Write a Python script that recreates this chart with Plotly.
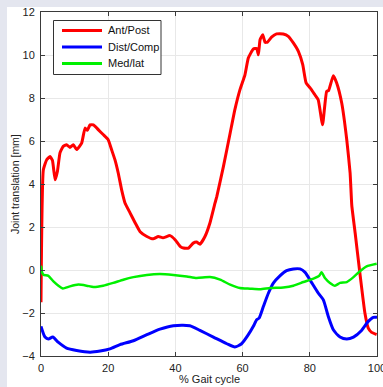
import plotly.graph_objects as go

ant_x = [0, 0.7, 1.7, 2.7, 3.4, 4.2, 4.9, 5.65, 6.6, 7.6, 8.6, 9.6, 10.6, 12.1, 13.1, 13.8, 14.6, 15.6, 17.1, 18.5, 20, 21, 22, 23, 24, 25, 26.5, 28, 29.5, 31.5, 33.4, 34.9, 36.3, 38.4, 39.9, 41.4, 42.4, 43.9, 45.3, 46.3, 47.3, 48.8, 50.3, 51.8, 52.3, 54.3, 56.3, 57.7, 59.2, 60.7, 61.7, 63.2, 64.2, 64.7, 65.2, 66, 66.7, 67.4, 68.7, 70.1, 72.1, 73.6, 75.1, 76.6, 77.9, 78.9, 80.1, 81.5, 82.5, 83.8, 85, 85.6, 87, 88, 89.5, 91, 92, 92.5, 93.5, 94.9, 96.4, 97.4, 98.4, 99.9]
ant_y = [-1.5, 4.66, 5.13, 5.28, 5.1, 4.2, 4.6, 5.45, 5.75, 5.83, 5.7, 5.83, 5.6, 5.9, 6.6, 6.5, 6.75, 6.75, 6.52, 6.3, 6.06, 5.6, 5.13, 4.5, 3.73, 3.12, 2.66, 2.2, 1.78, 1.56, 1.45, 1.56, 1.5, 1.6, 1.41, 1.1, 1.02, 1.02, 1.25, 1.3, 1.2, 1.56, 2.2, 3.12, 3.4, 4.82, 6.37, 7.46, 8.38, 9.08, 9.86, 10.28, 10.3, 10.01, 10.71, 10.94, 10.59, 10.6, 10.84, 10.98, 10.98, 10.87, 10.56, 10.17, 9.55, 8.7, 8.47, 8.15, 7.92, 6.76, 8.3, 8.35, 9.04, 8.7, 7.77, 6.06, 4.51, 3.0, 1.72, -0.14, -2.0, -2.7, -2.9, -3.0]

dist_x = [0, 1.2, 2.2, 3.5, 5.2, 7.6, 10.6, 14.6, 17.6, 20.5, 23.5, 27.5, 31.5, 35.4, 39.4, 44.3, 47.3, 51.3, 55.3, 57.7, 59.7, 61.7, 63.2, 64.2, 64.9, 66.2, 67.7, 69.2, 71.1, 73.1, 75.1, 77.1, 78.6, 80.6, 82.5, 84, 85.5, 87, 89, 91, 93, 95.4, 97.4, 98.9, 100]
dist_y = [-2.62, -3.12, -3.21, -3.12, -3.37, -3.63, -3.74, -3.82, -3.77, -3.67, -3.47, -3.29, -3.01, -2.75, -2.59, -2.59, -2.81, -3.12, -3.43, -3.58, -3.43, -3.01, -2.62, -2.31, -2.24, -1.69, -1.07, -0.6, -0.27, -0.03, 0.05, 0.05, -0.11, -0.6, -1.07, -1.38, -2.16, -2.78, -3.12, -3.21, -3.12, -2.81, -2.39, -2.2, -2.2]

med_x = [0, 0.3, 0.7, 2.2, 3.7, 5.2, 6.5, 8.6, 11.1, 13.6, 15.6, 18.5, 21.5, 24.5, 27.5, 31.5, 35.4, 39.4, 43.4, 46.3, 50.3, 53.3, 56.3, 59.2, 62.2, 65.2, 68.2, 72.1, 75.1, 78.1, 81.1, 82.8, 83.5, 84.5, 86, 87.5, 89, 91, 93, 94.9, 96.9, 99.9]
med_y = [0.2, -0.1, -0.22, -0.27, -0.53, -0.73, -0.86, -0.76, -0.68, -0.73, -0.79, -0.73, -0.6, -0.45, -0.33, -0.23, -0.19, -0.23, -0.3, -0.37, -0.33, -0.45, -0.68, -0.84, -0.87, -0.9, -0.84, -0.81, -0.73, -0.56, -0.4, -0.27, -0.11, -0.37, -0.6, -0.73, -0.6, -0.56, -0.33, -0.06, 0.17, 0.29]

series_names = ["Ant/Post", "Dist/Comp", "Med/lat"]
series_colors = ["#ff0000", "#0000ff", "#00f000"]

x_ticks = [0, 20, 40, 60, 80, 100]
y_ticks = [-4, -2, 0, 2, 4, 6, 8, 10, 12]

W, H = 383, 387
L, R, T, B = 41, 6, 12, 31
pw, ph = W - L - R, H - T - B


def px_x(px):
    return (px - L) / pw


def px_y(py):
    return 1 - (py - T) / ph


FONT = "Liberation Sans, Arial, Helvetica"

fig = go.Figure()
fig.add_trace(go.Scatter(x=ant_x, y=ant_y, mode="lines", name=series_names[0],
                         line=dict(color=series_colors[0], width=3, shape="spline", smoothing=0.4)))
fig.add_trace(go.Scatter(x=dist_x, y=dist_y, mode="lines", name=series_names[1],
                         line=dict(color=series_colors[1], width=3, shape="spline", smoothing=0.6)))
fig.add_trace(go.Scatter(x=med_x, y=med_y, mode="lines", name=series_names[2],
                         line=dict(color=series_colors[2], width=2.5, shape="spline", smoothing=0.5)))

axis_common = dict(showline=True, linecolor="#3a3a3a", linewidth=1, mirror="ticks",
                   ticks="inside", ticklen=4, tickcolor="#3a3a3a",
                   showgrid=True, gridcolor="#e8e8e8", gridwidth=1, zeroline=False,
                   automargin=False, ticklabeloverflow="allow",
                   tickfont=dict(family=FONT, size=11, color="#222"))

fig.update_xaxes(range=[0, 100], tickvals=x_ticks, ticklabelstandoff=2, **axis_common)
fig.update_yaxes(range=[-4, 12], tickvals=y_ticks, ticklabelstandoff=3, **axis_common)

# axis titles
fig.add_annotation(text="% Gait cycle", xref="paper", yref="paper", x=px_x(209), y=px_y(379),
                   showarrow=False, xanchor="center", yanchor="middle",
                   font=dict(family=FONT, size=11, color="#222"))
fig.add_annotation(text="Joint translation [mm]", xref="paper", yref="paper", x=px_x(15), y=px_y(184),
                   showarrow=False, xanchor="center", yanchor="middle", textangle=-90,
                   font=dict(family=FONT, size=10.5, color="#222"))

# light border bands at left and top of the picture
fig.add_shape(type="rect", xref="paper", yref="paper", x0=px_x(0), x1=px_x(7),
              y0=px_y(H), y1=px_y(0), fillcolor="#e4e6ef", line_width=0, layer="below")
fig.add_shape(type="rect", xref="paper", yref="paper", x0=px_x(0), x1=px_x(W),
              y0=px_y(7), y1=px_y(0), fillcolor="#e4e6ef", line_width=0, layer="below")

# legend box drawn like the reference
fig.add_shape(type="rect", xref="paper", yref="paper", x0=px_x(53.5), x1=px_x(161),
              y0=px_y(74.5), y1=px_y(20.5), fillcolor="white", line=dict(color="#333", width=1))
row_y = [30.5, 47, 63.5]
for name, col, ry in zip(series_names, series_colors, row_y):
    fig.add_shape(type="line", xref="paper", yref="paper", x0=px_x(62), x1=px_x(102),
                  y0=px_y(ry), y1=px_y(ry), line=dict(color=col, width=3))
    fig.add_annotation(text=name, xref="paper", yref="paper", x=px_x(106), y=px_y(ry),
                       showarrow=False, xanchor="left", yanchor="middle",
                       font=dict(family=FONT, size=11, color="#111"))

fig.update_layout(
    width=W, height=H,
    margin=dict(l=L, r=R, t=T, b=B, pad=0),
    paper_bgcolor="white", plot_bgcolor="white",
    showlegend=False,
)

fig.write_html("out.html", config={"displayModeBar": False},
               post_script="document.body.style.margin='0';document.body.style.overflow='hidden';")
